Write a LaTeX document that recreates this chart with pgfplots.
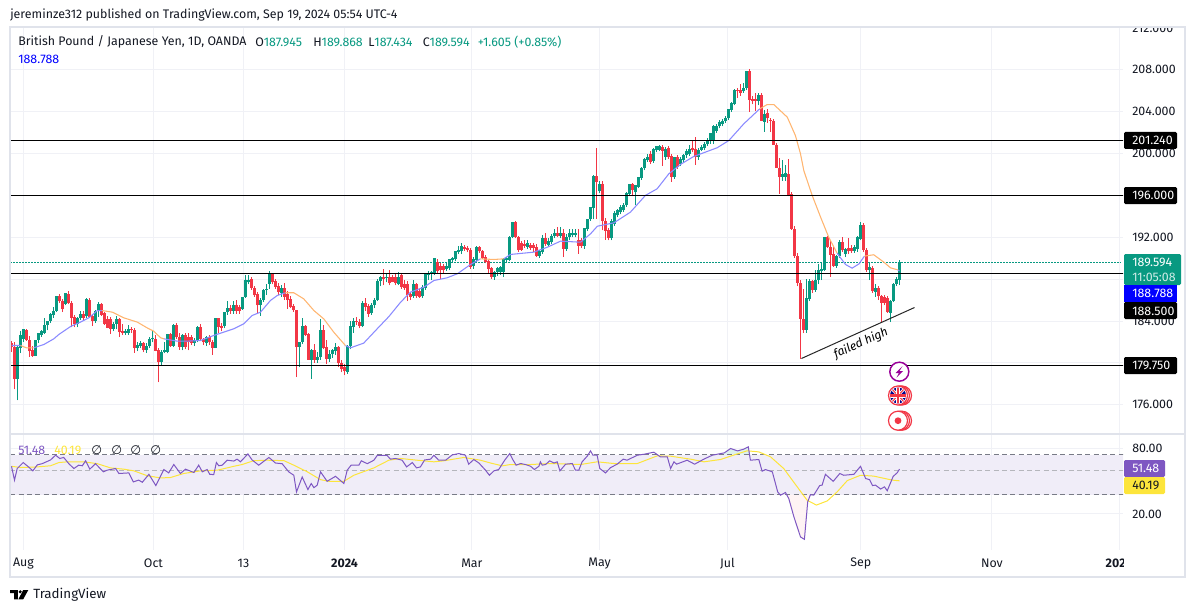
\documentclass[border=0pt]{standalone}
\usepackage{fontspec}
\usepackage{pgfplots}
\usepackage{pgfplotstable}
\pgfplotsset{compat=1.18}
\setmainfont{Fira Sans}
\newfontfamily\djv{DejaVu Sans}
\definecolor{up}{HTML}{089981}
\definecolor{dn}{HTML}{F23645}
\definecolor{gridc}{HTML}{F0F1F6}
\definecolor{framec}{HTML}{E0E3EB}
\definecolor{ink}{HTML}{131722}
\definecolor{mablue}{HTML}{8A8AFF}
\definecolor{maorange}{HTML}{FFB570}
\definecolor{rsi}{HTML}{7E57C2}
\definecolor{rsima}{HTML}{FDE53B}
\definecolor{band}{HTML}{F0EDF8}
\definecolor{dashc}{HTML}{787B86}
\newcommand\tf{\fontsize{9.3}{10}\selectfont}

% i open high low close
\pgfplotstableread{
i o h l c
0 181.89 182.05 181.03 181.50
1 181.50 182.00 177.46 178.45
2 178.45 181.60 176.41 181.50
3 181.44 183.00 180.93 182.62
4 182.30 183.20 182.00 183.20
5 183.15 183.20 182.10 182.14
6 182.20 182.60 180.60 181.10
7 181.20 181.60 180.60 180.65
8 180.65 182.20 180.65 182.20
9 182.20 182.90 181.90 182.85
10 182.70 183.10 182.50 183.05
11 182.90 184.30 182.80 183.60
12 183.60 184.00 183.10 184.00
13 184.00 184.80 183.80 184.70
14 184.55 185.35 184.30 185.00
15 185.00 186.35 184.90 186.35
16 186.35 186.60 185.70 185.90
17 185.95 186.10 184.85 185.15
18 185.65 186.70 185.50 186.65
19 186.60 186.85 185.60 185.70
20 185.70 185.90 183.40 184.30
21 184.40 184.60 183.40 183.70
22 183.70 184.40 183.40 184.30
23 184.25 184.95 184.10 184.70
24 184.70 184.95 184.10 184.30
25 184.45 186.20 184.30 186.10
26 186.05 186.20 184.30 184.40
27 184.45 184.70 183.55 184.05
28 184.05 185.10 183.80 185.00
29 184.95 185.80 184.40 185.65
30 185.65 185.75 184.50 184.60
31 184.75 184.90 183.60 183.70
32 184.20 184.50 183.30 183.35
33 184.20 184.40 182.80 183.25
34 183.25 183.90 183.00 183.70
35 183.70 184.45 183.20 184.20
36 184.20 184.30 182.50 182.95
37 183.00 183.70 182.70 182.85
38 182.85 183.20 182.70 183.00
39 182.85 183.60 182.70 183.25
40 183.25 183.40 182.90 183.15
41 183.15 183.30 180.95 181.40
42 181.40 181.95 181.10 181.75
43 181.65 182.10 181.40 181.90
44 181.90 182.00 181.00 181.20
45 181.20 181.90 180.95 181.65
46 181.65 182.50 181.40 182.30
47 182.25 183.10 181.95 182.35
48 182.30 182.70 181.10 181.15
49 181.20 181.40 178.15 180.05
50 180.05 181.20 179.70 181.05
51 181.05 182.00 180.90 181.20
52 181.05 182.80 180.90 182.75
53 182.75 182.85 181.50 181.65
54 181.65 183.75 181.50 183.65
55 183.65 183.85 182.30 182.45
56 182.45 182.90 181.25 181.55
57 181.55 182.80 181.20 182.70
58 182.70 182.85 181.30 181.55
59 182.50 182.90 181.20 181.95
60 182.50 182.70 181.70 181.90
61 181.90 182.40 181.60 182.20
62 182.15 183.50 181.95 183.40
63 183.40 183.70 182.10 182.30
64 182.30 182.40 181.70 181.95
65 181.90 182.60 181.60 182.45
66 182.45 182.70 181.70 181.95
67 181.95 182.20 180.80 181.40
68 181.40 184.30 181.40 184.30
69 184.30 184.30 182.90 183.40
70 183.55 183.80 183.00 183.35
71 183.55 184.90 183.30 184.85
72 184.85 185.95 184.60 185.25
73 185.25 185.50 184.70 184.95
74 184.95 185.90 184.70 185.50
75 185.50 186.00 184.70 184.95
76 185.30 185.50 184.70 184.95
77 185.15 186.30 185.10 186.30
78 186.30 188.35 186.20 187.95
79 187.70 188.40 187.50 187.90
80 188.00 188.20 187.00 187.20
81 187.20 187.30 186.30 186.45
82 186.55 186.80 184.70 185.50
83 185.50 186.20 184.50 186.00
84 186.00 187.10 185.80 186.95
85 186.95 187.50 186.50 187.10
86 187.55 188.75 187.10 188.50
87 188.50 188.60 187.50 187.70
88 187.80 188.00 187.10 187.25
89 187.30 187.60 186.50 186.75
90 186.65 187.40 186.30 187.20
91 187.20 187.60 186.00 186.30
92 186.60 186.90 185.15 186.05
93 186.10 186.40 185.20 185.30
94 185.40 185.60 184.90 185.05
95 185.05 185.10 178.65 181.50
96 181.50 182.00 179.60 182.00
97 182.00 184.30 181.80 183.55
98 183.55 183.65 182.60 182.70
99 182.75 182.90 180.30 180.30
100 180.30 181.30 178.50 181.20
101 181.20 181.85 180.00 180.30
102 180.30 181.00 180.00 180.60
103 180.55 184.20 180.30 183.15
104 183.15 183.60 181.30 181.45
105 181.50 182.20 179.90 180.40
106 180.35 181.20 180.10 180.85
107 180.85 181.35 180.50 181.20
108 181.15 181.90 180.80 181.55
109 181.55 181.65 179.60 179.95
110 179.95 180.30 179.10 179.40
111 179.60 179.90 178.80 179.20
112 179.10 181.70 178.95 181.65
113 181.65 184.05 181.30 183.50
114 183.45 184.30 182.90 184.05
115 184.00 184.35 183.60 183.90
116 183.95 184.20 183.30 183.55
117 183.55 185.90 183.40 185.75
118 185.75 186.20 185.00 185.30
119 185.40 185.60 184.40 184.70
120 184.75 185.70 184.60 185.55
121 185.55 186.20 185.20 186.00
122 186.00 188.00 185.90 187.85
123 187.80 188.30 187.30 188.25
124 188.25 189.00 187.40 188.05
125 188.15 188.50 187.70 188.25
126 188.25 188.85 187.40 187.60
127 188.20 188.40 187.70 187.70
128 188.25 188.50 187.40 187.60
129 187.50 188.65 187.40 188.25
130 188.35 188.50 187.10 187.25
131 187.50 187.90 187.00 187.20
132 187.50 187.80 185.90 186.45
133 186.60 186.80 186.00 186.30
134 186.35 187.90 186.20 187.50
135 187.50 187.60 186.20 186.35
136 186.90 187.10 186.20 186.30
137 186.35 187.40 186.20 187.25
138 187.20 188.60 187.00 188.45
139 188.40 188.75 187.90 188.55
140 188.50 188.80 187.90 188.65
141 188.50 190.00 188.40 190.00
142 189.60 189.95 188.50 188.80
143 189.30 189.50 188.00 188.90
144 189.30 189.40 188.60 188.85
145 189.00 189.50 188.80 189.30
146 189.05 189.95 188.85 189.90
147 189.85 190.10 189.60 190.00
148 189.90 190.70 189.70 190.65
149 190.60 191.20 190.40 190.80
150 190.65 191.45 190.40 191.20
151 191.10 191.30 190.70 190.90
152 191.00 191.20 190.55 190.75
153 190.80 191.00 189.00 189.20
154 189.25 190.10 189.00 189.95
155 189.80 191.20 189.60 191.10
156 191.10 191.20 190.50 190.65
157 190.65 190.80 189.90 190.05
158 190.10 190.30 189.50 189.60
159 189.70 189.85 188.50 189.00
160 189.10 189.20 188.05 188.25
161 188.20 188.80 187.95 188.65
162 188.65 189.20 188.30 189.10
163 188.65 189.30 188.40 189.15
164 188.70 190.00 188.20 189.95
165 189.80 190.10 189.50 190.05
166 189.85 192.10 189.70 192.00
167 192.00 193.50 191.90 193.50
168 193.45 193.60 191.90 192.00
169 192.00 192.10 190.60 190.75
170 191.45 191.60 190.70 190.80
171 191.40 191.70 191.00 191.20
172 191.10 191.70 190.90 191.45
173 191.30 191.50 190.80 191.00
174 191.30 191.50 190.60 191.00
175 191.10 191.40 190.10 190.25
176 190.25 190.80 190.00 190.65
177 190.60 192.25 190.40 191.90
178 191.90 192.40 191.20 191.35
179 191.30 191.95 191.10 191.60
180 191.55 192.30 191.40 192.10
181 192.10 192.80 191.90 192.45
182 192.45 193.00 192.00 192.10
183 192.10 193.00 191.90 192.40
184 192.45 192.80 190.10 190.90
185 190.90 192.30 190.70 192.00
186 192.00 192.80 191.70 192.40
187 192.20 192.80 192.00 192.40
188 192.25 192.80 192.00 192.40
189 191.75 192.80 190.45 191.20
190 191.70 191.90 191.00 191.20
191 191.20 192.85 190.90 192.85
192 192.80 193.75 192.60 193.70
193 193.70 194.90 193.60 194.85
194 194.80 197.95 193.70 197.90
195 197.90 200.55 193.75 197.25
196 196.40 197.40 196.20 197.10
197 197.10 197.40 192.65 193.55
198 193.60 193.80 191.75 192.60
199 192.65 192.90 191.70 191.90
200 191.90 193.70 191.70 193.60
201 193.30 194.50 193.10 194.35
202 194.10 194.70 193.90 194.60
203 194.40 195.10 194.20 194.85
204 194.60 195.30 194.40 195.10
205 195.05 196.30 194.90 196.20
206 196.15 197.10 195.90 197.05
207 197.05 197.20 195.90 196.50
208 196.30 197.00 195.10 196.95
209 196.85 197.80 196.70 197.75
210 197.70 198.70 197.50 198.65
211 198.60 199.60 198.40 199.50
212 199.40 200.00 199.20 199.65
213 199.95 200.20 199.00 199.20
214 199.30 200.50 199.10 200.45
215 200.30 200.75 200.10 200.70
216 200.35 200.80 200.20 200.70
217 200.60 200.80 198.85 200.25
218 199.65 200.60 199.40 200.45
219 200.55 200.70 199.50 199.65
220 199.80 199.95 197.30 197.75
221 197.75 199.70 197.60 199.65
222 199.65 199.90 198.50 198.70
223 199.00 199.70 198.80 199.50
224 199.35 200.00 199.10 199.90
225 199.85 200.40 199.60 200.25
226 199.95 200.80 199.80 200.45
227 200.55 201.30 200.10 200.30
228 200.45 201.60 198.95 199.65
229 199.65 200.50 199.40 200.35
230 200.35 200.80 200.20 200.65
231 200.55 201.10 200.30 200.95
232 200.90 201.50 200.70 201.25
233 201.20 202.00 200.95 201.95
234 201.25 202.70 200.90 202.60
235 202.20 202.80 202.00 202.60
236 202.60 203.20 202.40 203.00
237 202.85 203.30 202.60 203.15
238 203.10 203.60 202.90 203.40
239 203.40 204.30 203.20 204.25
240 204.20 204.90 204.00 204.80
241 204.75 206.15 204.60 206.10
242 206.10 206.30 205.30 205.95
243 206.05 206.60 205.50 205.80
244 205.95 206.70 205.80 206.25
245 206.25 207.90 206.10 207.85
246 207.85 208.10 204.00 205.15
247 205.20 205.50 204.70 205.05
248 205.20 205.80 204.10 205.05
249 205.00 205.75 204.60 205.55
250 205.55 205.75 203.10 203.15
251 203.05 204.20 202.10 203.80
252 203.90 204.25 202.90 203.35
253 203.25 203.40 202.05 203.20
254 203.10 203.30 200.80 200.85
255 200.85 201.00 198.60 198.65
256 198.65 199.55 196.15 197.75
257 197.75 199.35 197.40 198.05
258 197.75 198.90 197.40 198.10
259 198.05 199.50 195.90 196.00
260 196.15 196.30 192.70 192.80
261 192.80 193.10 190.00 190.20
262 190.20 190.50 187.30 187.65
263 187.65 187.90 180.40 184.20
264 184.20 187.10 182.85 183.15
265 183.15 188.05 182.90 186.20
266 186.10 188.00 185.90 187.80
267 187.80 187.90 186.70 187.00
268 187.00 188.90 186.80 187.95
269 187.90 189.40 187.50 188.85
270 188.80 189.60 187.90 189.00
271 188.90 192.05 188.80 192.00
272 192.00 192.10 191.00 191.05
273 191.05 191.60 188.25 190.35
274 190.40 191.20 189.20 189.30
275 189.30 190.30 189.10 190.25
276 190.25 191.70 190.00 191.55
277 191.55 192.00 190.60 190.75
278 190.40 191.00 190.10 190.90
279 190.95 191.90 190.40 190.65
280 190.95 191.30 190.50 190.65
281 190.70 191.30 190.50 191.05
282 190.90 192.10 190.60 192.00
283 191.85 193.50 191.70 193.15
284 193.15 193.40 190.60 190.80
285 190.80 191.00 188.70 188.90
286 188.90 189.50 187.90 189.15
287 189.10 189.30 186.70 186.85
288 186.75 187.50 186.30 187.15
289 187.15 187.30 186.00 186.35
290 186.35 186.50 183.90 185.70
291 186.30 186.50 185.50 185.70
292 186.20 186.40 184.80 184.85
293 184.75 186.00 183.90 185.90
294 185.90 187.60 185.80 187.50
295 187.50 188.20 187.30 188.00
296 187.945 189.868 187.434 189.594
}\candles

% moving average, nan breaks the line where the colour changes
\pgfplotstableread{
i p
0 181.66
3 181.66
nan nan
7.4 181.44
10.8 181.76
14.1 182.30
15.8 182.72
19.7 183.48
23 183.90
25.8 184.31
28.6 185.00
30.2 185.00
nan nan
50.8 182.30
55.2 182.08
58.6 182.08
63 182.14
67.4 182.62
74.1 183.26
77.4 183.73
80.2 184.53
83 184.85
86.3 185.96
88.6 186.44
91.3 186.70
nan nan
111.3 181.66
113 181.44
117.4 181.89
121.9 183.26
125.8 184.43
129.7 185.80
133 186.76
137.5 187.24
140.8 187.87
145.2 188.13
148.6 188.51
153 189.40
156.3 189.94
nan nan
164.1 189.94
166.3 190.36
174.1 190.58
178.6 191.05
183 191.63
189.7 191.53
193 192.33
195.3 193.06
200.8 193.38
206.3 194.40
211.3 196.00
215.2 196.63
219.1 198.06
223 198.96
227.4 199.72
235.2 200.55
239.1 201.24
244.1 202.84
249.4 204.27
nan nan
275.2 190.48
278 189.40
280.2 189.05
282.5 189.46
284.3 190.20
nan nan
295.4 188.89
296 188.79
}\mablue

\pgfplotstableread{
i p
3 181.66
5 181.44
7.4 181.44
nan nan
30.2 185.00
33.6 184.85
37.4 184.31
41.9 183.90
45.2 183.35
47.4 183.03
49.7 182.40
50.8 182.30
nan nan
91.3 186.70
94.1 186.70
97.4 186.12
100.8 185.00
104.1 184.20
107.4 182.94
111.3 181.66
nan nan
156.3 189.94
160.8 189.88
164.1 189.94
nan nan
249.4 204.27
251.9 204.68
254.1 204.68
258.6 203.47
261.3 201.72
263 199.97
264.1 198.37
266.9 195.99
269.7 193.92
272.4 192.01
275.2 190.48
nan nan
284.3 190.20
287.4 190.33
290.8 189.62
293 189.08
295.4 188.89
}\maorange

\pgfplotstableread{
i r
0 54.6
1 40.8
1.9 52.1
3.9 59.1
5.8 53.5
7.1 49.6
8.6 56.3
10.2 57.7
13 62.4
14.7 69
16.1 64.4
17.4 65.8
19.1 57.7
20.8 52.1
22.4 55.9
23.6 55.2
24.7 61.3
26.1 51.4
28 57.7
30.6 48.6
31.9 50.3
34.7 52.1
35.8 46.9
39.1 47.5
40.6 39.3
42.4 40.8
43.6 39
45.8 46.1
48.1 36.4
50.8 51
52.4 47.5
54.1 56.7
56.3 46.9
58 51.4
60.8 47.9
62.4 55.9
63.6 48.6
65.2 51
66.1 46.1
67.4 45.8
68.3 59.1
69.1 55.2
70.2 55.9
71.9 62.1
74.1 61
75.2 63.5
76.3 60
78.8 70.9
80.2 62.4
82.4 55.9
85.8 65.8
88 58.5
90.2 57.7
92.4 48.6
94.1 45.2
95 31.8
96.9 43.6
98.8 33.4
99.9 38
100.8 34.8
101.9 36.7
103 48.6
105.2 39.8
108 44.2
110.8 38
111.9 50.3
113.2 55.9
115.8 55.9
116.6 61.3
118.6 57.7
120.8 62.1
121.9 68.6
125.2 68.6
126.3 63.5
128 64.4
130.2 62.1
131.7 53.9
133.6 59.1
135 52.8
136.3 53.9
137.7 62.4
139.7 63.5
140.8 69
142.4 62.1
144.7 62.1
146.9 69.4
149.1 71.4
151.3 69
152.4 57.1
154.1 63
155.8 58.5
158 50.3
159.3 45.2
160.8 49.6
162.4 51
164.4 62.1
166.1 71.5
166.9 64.3
168.2 55.9
169.7 57.9
171.3 56.7
173 54.7
174.3 51
175.8 54.7
176.3 60
176.9 55.9
178 56.7
179.4 61.3
180.8 58.5
181.9 60
182.8 49.6
184.7 57.1
186.9 57.9
188 50.3
189.1 50.3
190.2 60
191.9 67.6
193 75.6
193.8 69
195.2 69
196.1 52.1
198 47.5
199.7 53.2
201.9 57.1
203.9 63.5
205.2 62.1
208.6 69
210.8 70.4
214.1 73.5
216.3 66.6
218.6 66.6
219.7 52.1
220.8 60
221.7 57.1
225.2 62.1
227.7 57.1
230.8 63.5
233.6 69
237.6 72.5
239.7 79.5
242 75.6
244.1 78.4
245.6 82.3
246.3 62.1
249.1 63
250.2 49.3
251.3 51
253.6 48.6
255.4 31.8
256.3 29.7
258 31.4
259.1 27.6
260.8 18.8
263 12.3
264.3 11.7
265.4 25.8
266.3 30
267.4 29.7
269.4 36.4
270.2 36.7
271.3 46.1
273.9 39.8
276.1 46.9
277.4 45.2
280.8 46.1
283 54.6
284.7 42.2
286 41.2
287 36.4
288 36.7
289.7 33.8
291 35.4
291.9 32.6
293.9 44.2
295.2 47.5
296 51.48
}\rsitab

\pgfplotstableread{
i r
0 54.6
3 53.2
8.6 53.9
13 55.2
15.8 59.1
18.6 60
24.1 60
28.6 57.7
33 52.8
37.4 51.4
40.8 49.6
45.2 44.8
49.7 42.7
53 43.1
57.4 46.9
63 49.6
68.6 50.3
74.1 54.6
76.9 56.7
80.8 61.5
85.2 62.1
90.8 61.5
94.1 55.9
98.6 48.6
103 41.2
105.8 39.8
110.8 39.8
114.1 45.2
120.8 52.8
125.8 62.1
129.7 64.4
135.2 62.1
140.8 60
144.1 61.3
150.8 65.8
153 64.3
156.3 62.1
159.7 58.5
163.6 55.1
166.3 56.7
173 56.7
179.7 57.9
189.7 56.7
195.2 60
200.8 57.9
208.6 57.9
215.2 68
219.7 67.6
226.3 63.5
230.8 60
236.3 63
243 72.5
245.2 75.7
249.1 74
253 66.7
257.4 52.1
261.9 35.4
265.2 26.7
268.3 24.1
271.9 26.3
275.2 31.8
278.6 40.4
283 45.2
287.4 44.4
293.6 40.8
296 40.19
}\rsimatab

\pgfplotstableread{
i r
-0.4 30
370.8 30
370.8 70
-0.4 70
}\bandtab

\pgfplotstableread{
i r
255.9 30
258 30
259.1 27.6
260.8 18.8
263 12.3
264.3 11.7
265.4 25.8
266.3 30
}\lowfill

\pgfplotstableread{
i r
237 70
237.6 72.5
239.7 79.5
242 75.6
244.1 78.4
245.6 82.3
246.1 70
}\highfill

\begin{document}
\begin{tikzpicture}[x=0.75pt,y=-0.75pt]
\path[use as bounding box] (0,0) rectangle (1195,613);

% price pane
\begin{axis}[
  at={(7.875pt,-325.875pt)}, anchor=south west,
  scale only axis, width=834.375pt, height=305.25pt,
  xmin=-0.337, xmax=370.5, ymin=173.16, ymax=212.04,
  axis line style={draw=none},
  major tick length=0pt,
  xtick={4.0,47.3,77.3,111,153.45,196,238.65,283.1,326.8,369.3},
  xticklabels={},
  ytick={176,180,...,212},
  scaled y ticks=false,
  yticklabel pos=right,
  y tick label style={font=\tf, color=ink, anchor=west, inner sep=0pt, xshift=6.75pt,
    /pgf/number format/fixed, /pgf/number format/fixed zerofill, /pgf/number format/precision=3,
    /pgf/number format/assume math mode=true},
  grid=major, grid style={color=gridc, line width=0.75pt},
  unbounded coords=jump,
]
% last price
\addplot[up, line width=0.75pt, dash pattern=on 1.1pt off 1.15pt] coordinates {(-0.4,189.594) (369.8,189.594)};
% wicks
\addplot[draw=none, mark=none, error bars/.cd, y dir=plus, y explicit, error mark=none,
  error bar style={color=up, line width=0.75pt}]
  table[x expr={\thisrow{c}>=\thisrow{o}?\thisrow{i}:nan}, y=l, y error expr={\thisrow{h}-\thisrow{l}}] {\candles};
\addplot[draw=none, mark=none, error bars/.cd, y dir=plus, y explicit, error mark=none,
  error bar style={color=dn, line width=0.75pt}]
  table[x expr={\thisrow{c}<\thisrow{o}?\thisrow{i}:nan}, y=l, y error expr={\thisrow{h}-\thisrow{l}}] {\candles};
% bodies
\addplot[draw=none, mark=none, error bars/.cd, y dir=plus, y explicit, error mark=none,
  error bar style={color=up, line width=1.9pt}]
  table[x expr={\thisrow{c}>=\thisrow{o}?\thisrow{i}:nan}, y=o, y error expr={\thisrow{c}-\thisrow{o}}] {\candles};
\addplot[draw=none, mark=none, error bars/.cd, y dir=plus, y explicit, error mark=none,
  error bar style={color=dn, line width=1.9pt}]
  table[x expr={\thisrow{c}<\thisrow{o}?\thisrow{i}:nan}, y=c, y error expr={\thisrow{o}-\thisrow{c}}] {\candles};
% moving average
\addplot[mablue, line width=0.8pt] table[x=i, y=p] {\mablue};
\addplot[maorange, line width=0.8pt] table[x=i, y=p] {\maorange};
% levels
\addplot[black, line width=0.75pt] coordinates {(-0.4,201.24) (370.8,201.24)};
\addplot[black, line width=0.75pt] coordinates {(-0.4,196) (370.8,196)};
\addplot[black, line width=0.75pt] coordinates {(-0.4,188.5) (370.8,188.5)};
\addplot[black, line width=0.75pt] coordinates {(-0.4,179.75) (370.8,179.75)};
% trend line
\addplot[black!85, line width=0.75pt] coordinates {(263.3,180.42) (301,185.29)};
\end{axis}

% rsi pane, its scale is logarithmic: values are plotted through ln
\begin{axis}[
  at={(7.875pt,-412.125pt)}, anchor=south west,
  scale only axis, width=834.375pt, height=86.475pt,
  xmin=-0.337, xmax=370.5, ymin=2.245, ymax=4.677,
  axis line style={draw=none},
  major tick length=0pt,
  xtick={4.0,47.3,77.3,111,153.45,196,238.65,283.1,326.8,369.3},
  xticklabels={Aug,Oct,13,\textbf{2024},Mar,May,Jul,Sep,Nov,},
  x tick label style={font=\tf, color=ink, anchor=center, inner sep=0pt, yshift=-10.5pt},
  ytick={2.9957,3.6889,4.3820},
  yticklabels={20.00,40.00,80.00},
  yticklabel pos=right,
  y tick label style={font=\tf, color=ink, anchor=west, inner sep=0pt, xshift=6.75pt},
  grid=major, grid style={color=gridc, line width=0.75pt},
]
\addplot[fill=band, draw=none] table[x=i, y expr={ln(\thisrow{r})}] {\bandtab};
\addplot[fill=dn!6, draw=none] table[x=i, y expr={ln(\thisrow{r})}] {\lowfill};
\addplot[fill=up!14, draw=none] table[x=i, y expr={ln(\thisrow{r})}] {\highfill};
\addplot[dashc, line width=0.75pt, dash pattern=on 3.75pt off 2.5pt] coordinates {(-0.4,4.2485) (370.8,4.2485)};
\addplot[dashc!55, line width=0.75pt, dash pattern=on 3.75pt off 2.5pt] coordinates {(-0.4,3.9120) (370.8,3.9120)};
\addplot[dashc, line width=0.75pt, dash pattern=on 3.75pt off 2.5pt] coordinates {(-0.4,3.4012) (370.8,3.4012)};
\addplot[rsima, line width=0.75pt] table[x=i, y expr={ln(\thisrow{r})}] {\rsimatab};
\addplot[rsi, line width=0.75pt] table[x=i, y expr={ln(\thisrow{r})}] {\rsitab};
\end{axis}

% cut-off axis labels
\fill[white] (1124,12) rectangle (1182,26.5);
\begin{scope}
\clip (1095,553) rectangle (1123,575);
\node[font=\tf\bfseries, color=ink] at (1119,563.5) {2025};
\end{scope}

% frame
\draw[framec, line width=1.2pt] (10,27) rectangle (1185,577);
\draw[framec, line width=1.2pt] (10,434) -- (1185,434);

% price boxes
\fill[black, rounded corners=1pt] (1124,132) rectangle (1177,149);
\fill[black, rounded corners=1pt] (1124,187) rectangle (1177,204);
\fill[up, rounded corners=1pt] (1124,254) rectangle (1181,285);
\fill[blue] (1124,285) rectangle (1177,302);
\fill[black, rounded corners=1pt] (1124,302) rectangle (1177,319);
\fill[black, rounded corners=1pt] (1124,357) rectangle (1177,374);
\fill[rsi, rounded corners=1pt] (1124,460) rectangle (1165,477);
\fill[rsima, rounded corners=1pt] (1124,477) rectangle (1165,494);
\begin{scope}[every node/.style={font=\tf, anchor=west, inner sep=0pt, text=white}]
\node at (1132,140.5) {201.240};
\node at (1132,195.5) {196.000};
\node at (1132,262.5) {189.594};
\node[text=white!80!up] at (1132,277) {11:05:08};
\node at (1132,293.5) {188.788};
\node at (1132,311) {188.500};
\node at (1132,365.5) {179.750};
\node at (1132,468.5) {51.48};
\node[text=ink] at (1132,485.5) {40.19};
\end{scope}

% header and legend
\begin{scope}[every node/.style={font=\tf, anchor=west, inner sep=0pt, text=ink}]
\node at (10,14.5) {jeremin\-ze312 published on TradingView.com, Sep 19, 2024 05:54 UTC-4};
\node at (18,42) {British Pound / Japanese Yen, 1D, OANDA};
\node at (255,42) {O\textcolor{up}{187.945}};
\node at (313,42) {H\textcolor{up}{189.868}};
\node at (368,42) {L\textcolor{up}{187.434}};
\node at (422.5,42) {C\textcolor{up}{189.594}};
\node[text=up] at (477.5,42) {+1.605 (+0.85\%)};
\node[text=blue] at (18,59) {188.788};
\node[text=rsi] at (18,450) {51.48};
\node[text=rsima] at (54,450) {40.19};
\node[font=\tf\djv] at (91,450) {∅};
\node[font=\tf\djv] at (111,450) {∅};
\node[font=\tf\djv] at (130,450) {∅};
\node[font=\tf\djv] at (150,450) {∅};
\node[font=\fontsize{10}{11}\selectfont] at (33,595) {TradingView};
\end{scope}
\node[font=\fontsize{9}{10}\selectfont\itshape, color=black, rotate=24] at (861,343.5) {failed high};

% TradingView logo
\fill[black] (10,590) -- (17.8,590) -- (17.8,599.3) -- (14,599.3) -- (14,593.2) -- (10,593.2) -- cycle;
\fill[black] (20.2,591.8) circle (1.7);
\fill[black] (23.2,590) -- (28.3,590) -- (23.2,599.3) -- (18.4,599.3) -- cycle;

% event icons
\filldraw[fill=white, draw=violet!80!magenta, line width=1.1pt] (899.3,371.7) circle (9.5);
\fill[violet!80!magenta] (902.5,366) -- (895.5,373) -- (899,373) -- (896.5,377.5) -- (903,371) -- (899.5,371) -- cycle;
\filldraw[fill=white, draw=dn, line width=0.9pt] (902,395.5) circle (9.5);
\filldraw[fill=white, draw=dn, line width=0.9pt] (900,395.5) circle (9.5);
\filldraw[fill=white, draw=dn, line width=0.9pt] (898,395.5) circle (9.5);
\begin{scope}
\clip (898,395.5) circle (8);
\fill[blue!55!black] (889,386) rectangle (907,405);
\draw[white, line width=2pt] (890,387) -- (906,404) (906,387) -- (890,404);
\draw[dn, line width=0.8pt] (890,387) -- (906,404) (906,387) -- (890,404);
\draw[white, line width=3pt] (898,386) -- (898,405) (889,395.5) -- (907,395.5);
\draw[dn, line width=1.8pt] (898,386) -- (898,405) (889,395.5) -- (907,395.5);
\end{scope}
\filldraw[fill=white, draw=dn, line width=0.9pt] (902,420.7) circle (9.5);
\filldraw[fill=white, draw=dn, line width=0.9pt] (900,420.7) circle (9.5);
\filldraw[fill=white, draw=dn, line width=0.9pt] (898,420.7) circle (9.5);
\fill[dn] (898,420.7) circle (3.4);
\end{tikzpicture}
\end{document}
